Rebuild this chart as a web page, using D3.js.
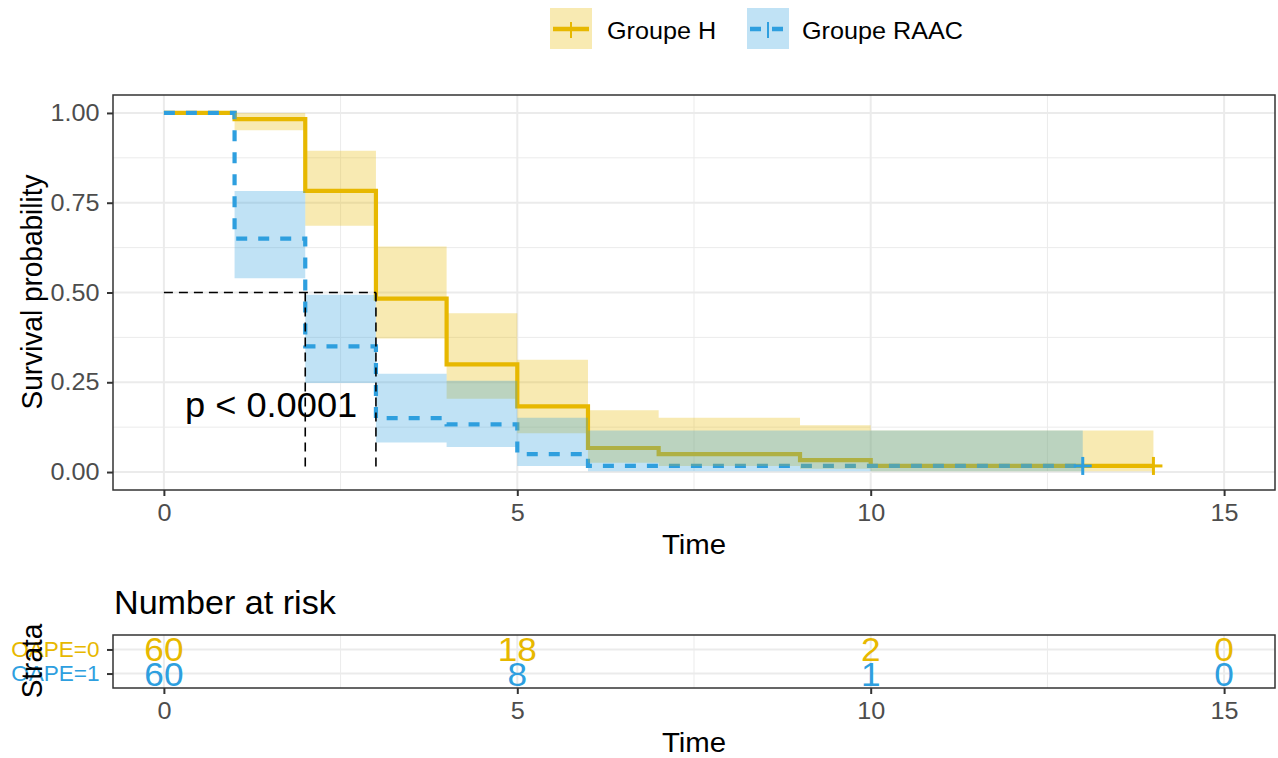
<!DOCTYPE html>
<html>
<head>
<meta charset="utf-8">
<script src="https://cdn.jsdelivr.net/npm/d3@7"></script>
<style>
  body { margin: 0; background: #fff; }
  svg { display: block; font-family: "Liberation Sans", Arial, sans-serif; }
</style>
</head>
<body>
<script>
// survival curves
var groups = ["Groupe H", "Groupe RAAC"];
var strata = ["OAPE=0", "OAPE=1"];
var colors = ["#E7B800", "#2E9FDF"];

var timesH = [0, 1, 2, 3, 4, 5, 6, 7, 9, 10, 14];
var survH  = [1, 0.983, 0.783, 0.483, 0.300, 0.183, 0.067, 0.050, 0.033, 0.017, 0.017];
var upperH = [1, 1, 0.895, 0.628, 0.442, 0.313, 0.172, 0.151, 0.130, 0.116, 0.116];
var lowerH = [1, 0.952, 0.686, 0.372, 0.204, 0.108, 0.026, 0.017, 0.009, 0.002, 0.002];
var censorH = [14];

var timesR = [0, 1, 2, 3, 4, 5, 6, 13];
var survR  = [1, 0.650, 0.350, 0.150, 0.133, 0.050, 0.017, 0.017];
var upperR = [1, 0.783, 0.494, 0.274, 0.254, 0.151, 0.116, 0.116];
var lowerR = [1, 0.540, 0.248, 0.082, 0.070, 0.017, 0.002, 0.002];
var censorR = [13];

var medians = [2, 3];

var riskTimes = [0, 5, 10, 15];
var riskH = [60, 18, 2, 0];
var riskR = [60, 8, 1, 0];

var xTicks = [0, 5, 10, 15];
var yTicks = [0, 0.25, 0.5, 0.75, 1];
var yLabels = ["0.00", "0.25", "0.50", "0.75", "1.00"];

var SX = 1.05; // text in the picture is a little wider than tall

var width = 1278, height = 758;
var svg = d3.select("body").append("svg")
    .attr("width", width).attr("height", height);

var x = d3.scaleLinear().domain([-0.72, 15.72]).range([113, 1275]);
var y = d3.scaleLinear().domain([-0.05, 1.05]).range([490, 95]);
var yRisk = d3.scalePoint().domain(strata).range([635, 688]).padding(0.6);

function label(g, px, py, str, size, opts) {
  opts = opts || {};
  var tr = "translate(" + px + "," + py + ")" +
    (opts.rotate ? " rotate(-90) scale(1," + SX + ")" : " scale(" + SX + ",1)");
  return g.append("text")
      .attr("transform", tr)
      .attr("text-anchor", opts.anchor || "start")
      .attr("font-size", size)
      .attr("fill", opts.fill || "#000")
      .text(str);
}

function makeSeries(times, surv, lower, upper) {
  return times.map(function(t, i) {
    return {t: t, s: surv[i], lo: lower[i], hi: upper[i]};
  });
}
var series = [
  makeSeries(timesH, survH, lowerH, upperH),
  makeSeries(timesR, survR, lowerR, upperR)
];
var censors = [
  censorH.map(function(t) { return {t: t, s: survH[timesH.indexOf(t)]}; }),
  censorR.map(function(t) { return {t: t, s: survR[timesR.indexOf(t)]}; })
];

// ---------- main panel ----------
var main = svg.append("g");

function grid(g, yFn, yTop, yBot, yMajor, yMinor) {
  var minorX = [2.5, 7.5, 12.5];
  g.selectAll(null).data(minorX).enter().append("line")
      .attr("x1", x).attr("x2", x).attr("y1", yTop).attr("y2", yBot)
      .attr("stroke", "#EBEBEB").attr("stroke-width", 1);
  g.selectAll(null).data(yMinor).enter().append("line")
      .attr("x1", 113).attr("x2", 1275).attr("y1", yFn).attr("y2", yFn)
      .attr("stroke", "#EBEBEB").attr("stroke-width", 1);
  g.selectAll(null).data(xTicks).enter().append("line")
      .attr("x1", x).attr("x2", x).attr("y1", yTop).attr("y2", yBot)
      .attr("stroke", "#EBEBEB").attr("stroke-width", 2);
  g.selectAll(null).data(yMajor).enter().append("line")
      .attr("x1", 113).attr("x2", 1275).attr("y1", yFn).attr("y2", yFn)
      .attr("stroke", "#EBEBEB").attr("stroke-width", 2);
}

grid(main, y, 95, 490, yTicks, [0.125, 0.375, 0.625, 0.875]);

var step = d3.line()
    .curve(d3.curveStepAfter)
    .x(function(d) { return x(d.t); })
    .y(function(d) { return y(d.s); });

var band = d3.area()
    .curve(d3.curveStepAfter)
    .x(function(d) { return x(d.t); })
    .y0(function(d) { return y(d.lo); })
    .y1(function(d) { return y(d.hi); });

// lines first, ribbons on top of them (as in the picture)
series.forEach(function(s, i) {
  main.append("path")
      .datum(s)
      .attr("d", step)
      .attr("fill", "none")
      .attr("stroke", colors[i])
      .attr("stroke-width", 4.2)
      .attr("stroke-dasharray", i == 1 ? "11,11" : null);
});
series.forEach(function(s, i) {
  main.append("path")
      .datum(s)
      .attr("d", band)
      .attr("fill", colors[i])
      .attr("fill-opacity", 0.3);
});

// censor marks
censors.forEach(function(c, i) {
  var m = main.selectAll(null).data(c).enter().append("g")
      .attr("transform", function(d) { return "translate(" + x(d.t) + "," + y(d.s) + ")"; });
  m.append("line").attr("x1", -9).attr("x2", 9).attr("stroke", colors[i]).attr("stroke-width", 3);
  m.append("line").attr("y1", -9).attr("y2", 9).attr("stroke", colors[i]).attr("stroke-width", 3);
});

// median survival lines
main.append("line")
    .attr("x1", x(0)).attr("x2", x(d3.max(medians)))
    .attr("y1", y(0.5)).attr("y2", y(0.5))
    .attr("stroke", "#000").attr("stroke-width", 1.6).attr("stroke-dasharray", "9,6");
main.selectAll(null).data(medians).enter().append("line")
    .attr("x1", x).attr("x2", x)
    .attr("y1", y(0.5)).attr("y2", y(0))
    .attr("stroke", "#000").attr("stroke-width", 1.6).attr("stroke-dasharray", "9,6");

label(main, 185, 417, "p < 0.0001", 34.5);

main.append("rect")
    .attr("x", 113).attr("y", 95).attr("width", 1275 - 113).attr("height", 490 - 95)
    .attr("fill", "none").attr("stroke", "#333").attr("stroke-width", 1.5);

function styleAxis(g) {
  g.select(".domain").remove();
  g.selectAll(".tick line").attr("stroke", "#333").attr("stroke-width", 2);
  g.selectAll(".tick text")
      .attr("fill", "#4D4D4D")
      .attr("font-size", 24)
      .attr("font-family", null)
      .attr("transform", "scale(" + SX + ",1)");
}

var yAxis = main.append("g")
    .attr("transform", "translate(113,0)")
    .call(d3.axisLeft(y).tickValues(yTicks).tickSize(6).tickPadding(6.8)
      .tickFormat(function(d, i) { return yLabels[i]; }));
styleAxis(yAxis);

var xAxis = main.append("g")
    .attr("transform", "translate(0,490)")
    .call(d3.axisBottom(x).tickValues(xTicks).tickSize(6).tickPadding(8));
styleAxis(xAxis);

label(main, 694, 554, "Time", 28, {anchor: "middle"});
label(main, 42, 292, "Survival probability", 28, {anchor: "middle", rotate: true});

// ---------- legend ----------
var legend = svg.append("g");
var keyX = [550, 747], textX = [607, 802];
groups.forEach(function(name, i) {
  var k = legend.append("g").attr("transform", "translate(" + keyX[i] + ",8)");
  k.append("rect").attr("width", 42).attr("height", 41)
      .attr("fill", colors[i]).attr("fill-opacity", 0.3);
  k.append("line").attr("x1", 3).attr("x2", 39).attr("y1", 21).attr("y2", 21)
      .attr("stroke", colors[i]).attr("stroke-width", 4.5)
      .attr("stroke-dasharray", i == 1 ? "11,11" : null);
  k.append("line").attr("x1", 21).attr("x2", 21).attr("y1", 14).attr("y2", 30)
      .attr("stroke", colors[i]).attr("stroke-width", 2);
  label(legend, textX[i], 38.5, name, 24);
});

// ---------- risk table ----------
var risk = svg.append("g");
label(risk, 114, 614, "Number at risk", 32.5);

grid(risk, yRisk, 635, 688, strata, []);

var riskData = [riskH, riskR];
riskData.forEach(function(vals, i) {
  vals.forEach(function(v, j) {
    label(risk, x(riskTimes[j]), yRisk(strata[i]) + 12, v, 33.5, {anchor: "middle", fill: colors[i]});
  });
});

risk.append("rect")
    .attr("x", 113).attr("y", 635).attr("width", 1275 - 113).attr("height", 688 - 635)
    .attr("fill", "none").attr("stroke", "#333").attr("stroke-width", 1.5);

var ryAxis = risk.append("g")
    .attr("transform", "translate(113,0)")
    .call(d3.axisLeft(yRisk).tickSize(6).tickPadding(6.8));
styleAxis(ryAxis);
ryAxis.selectAll(".tick text")
    .attr("font-size", 21.5)
    .attr("fill", function(d, i) { return colors[i]; });

var rxAxis = risk.append("g")
    .attr("transform", "translate(0,688)")
    .call(d3.axisBottom(x).tickValues(xTicks).tickSize(6).tickPadding(8));
styleAxis(rxAxis);

label(risk, 694, 752, "Time", 28, {anchor: "middle"});
label(risk, 42, 661, "Strata", 28, {anchor: "middle", rotate: true});
</script>
</body>
</html>
